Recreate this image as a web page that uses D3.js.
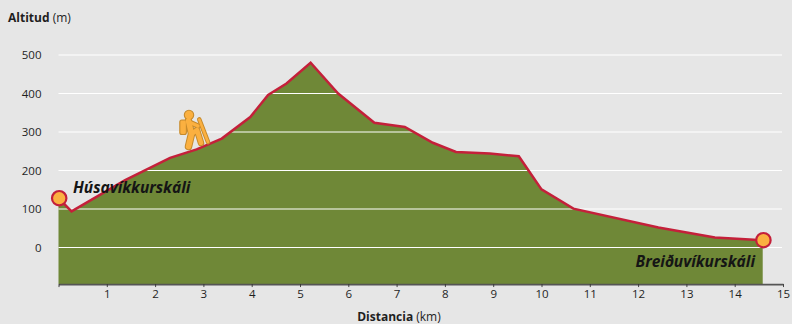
<!DOCTYPE html>
<html><head><meta charset="utf-8">
<script src="https://cdnjs.cloudflare.com/ajax/libs/d3/7.8.5/d3.min.js"></script>
<style>
html,body{margin:0;padding:0;background:#e6e6e6}
svg{display:block;font-family:"Open Sans",sans-serif}
</style></head><body>
<svg id="c" width="792" height="324"></svg>
<script>
const distanceKm = [0,0.27,1.38,2.31,2.86,3.38,3.97,4.34,4.72,5.22,5.79,6.54,7.17,7.75,8.23,8.93,9.53,10.0,10.66,12.42,13.59,14.58];
const altitudeM = [128,94,175,233,255,283,339,396,426,480,400,324,313,272,248,244,237,151,101,52,26,19];
const yTicks = [0,100,200,300,400,500];
const xTicks = d3.range(0,16);
const startLabel = "Húsavíkkurskáli";
const endLabel = "Breiðuvíkurskáli";
const INK = "#1f1f1f", RED = "#c4203a", GREEN = "#6f8837", ORANGE = "#fbb040", EDGE = "#c68a2c";

const svg = d3.select("#c");
const x = d3.scaleLinear().domain([0,15]).range([58.5,783]);
const y = d3.scaleLinear().domain([0,500]).range([247.5,55]);
const yBase = -95;
const pts = distanceKm.map((d,i)=>[d,altitudeM[i]]);

svg.append("path").datum(pts).attr("fill",GREEN)
  .attr("d",d3.area().x(d=>x(d[0])).y0(y(yBase)).y1(d=>y(d[1])));

svg.append("g").selectAll("line").data(yTicks).join("line")
  .attr("x1",x(0)).attr("x2",782).attr("y1",d=>y(d)).attr("y2",d=>y(d))
  .attr("stroke","#fff").attr("stroke-width",1.1);

svg.append("g").selectAll("text").data(yTicks).join("text")
  .attr("x",41.5).attr("y",d=>y(d)+4.3).attr("text-anchor","end")
  .attr("font-size",11.5).attr("fill",INK).text(d=>d);

const xAxis = d3.axisBottom(x).tickValues(xTicks).tickSize(3).tickSizeOuter(0)
  .tickFormat(d=>d===0?"":d);
const gx = svg.append("g").attr("transform",`translate(0,${y(yBase)})`).call(xAxis);
gx.select(".domain").attr("stroke","#555").attr("stroke-width",1.6);
gx.selectAll(".tick line").attr("stroke","#333").attr("stroke-width",0.9);
gx.selectAll(".tick text").attr("font-family",'"Open Sans",sans-serif').attr("font-size",11.5).attr("fill",INK).attr("y",5.5);

svg.append("path").datum(pts).attr("fill","none").attr("stroke",RED).attr("stroke-width",2.5)
  .attr("stroke-linejoin","miter")
  .attr("d",d3.line().x(d=>x(d[0])).y(d=>y(d[1])));

// hiker icon
const hiker = svg.append("g").attr("fill","none").attr("stroke-linecap","round").attr("stroke-linejoin","round");
const limbs = [
  {d:"M199.3 119.5L208 142",w:2.6},
  {d:"M188.5 121L191.5 134L188.5 146.5",w:5.5},
  {d:"M191.5 134L197 130L201 143",w:4.5},
  {d:"M189 122L198 126",w:3.2}
];
limbs.forEach(l=>hiker.append("path").attr("d",l.d).attr("stroke",EDGE).attr("stroke-width",l.w+2));
hiker.append("rect").attr("x",179.8).attr("y",120).attr("width",6.6).attr("height",14.5).attr("rx",2)
  .attr("fill",ORANGE).attr("stroke",EDGE).attr("stroke-width",1.1);
hiker.append("circle").attr("cx",189).attr("cy",115).attr("r",4.7).attr("fill",ORANGE).attr("stroke",EDGE).attr("stroke-width",1.1);
limbs.forEach(l=>hiker.append("path").attr("d",l.d).attr("stroke",ORANGE).attr("stroke-width",l.w));

svg.append("text").attr("x",73).attr("y",192.5).attr("font-size",15.5).attr("font-weight",700).attr("font-style","italic")
  .attr("fill","#151515").text(startLabel);
svg.append("text").attr("x",755).attr("y",267).attr("text-anchor","end").attr("font-size",15.5).attr("font-weight",700).attr("font-style","italic")
  .attr("fill","#151515").text(endLabel);

svg.append("g").selectAll("circle").data([pts[0],pts[pts.length-1]]).join("circle")
  .attr("cx",d=>x(d[0])+0.7).attr("cy",d=>y(d[1])).attr("r",7.2)
  .attr("fill",ORANGE).attr("stroke",RED).attr("stroke-width",2.2);

const t1 = svg.append("text").attr("x",8).attr("y",22).attr("font-size",12).attr("fill",INK);
t1.append("tspan").attr("font-weight",700).text("Altitud");
t1.append("tspan").text(" (m)");
const t2 = svg.append("text").attr("x",399).attr("y",321).attr("text-anchor","middle").attr("font-size",12).attr("fill",INK);
t2.append("tspan").attr("font-weight",700).text("Distancia");
t2.append("tspan").text(" (km)");
</script>
</body></html>
